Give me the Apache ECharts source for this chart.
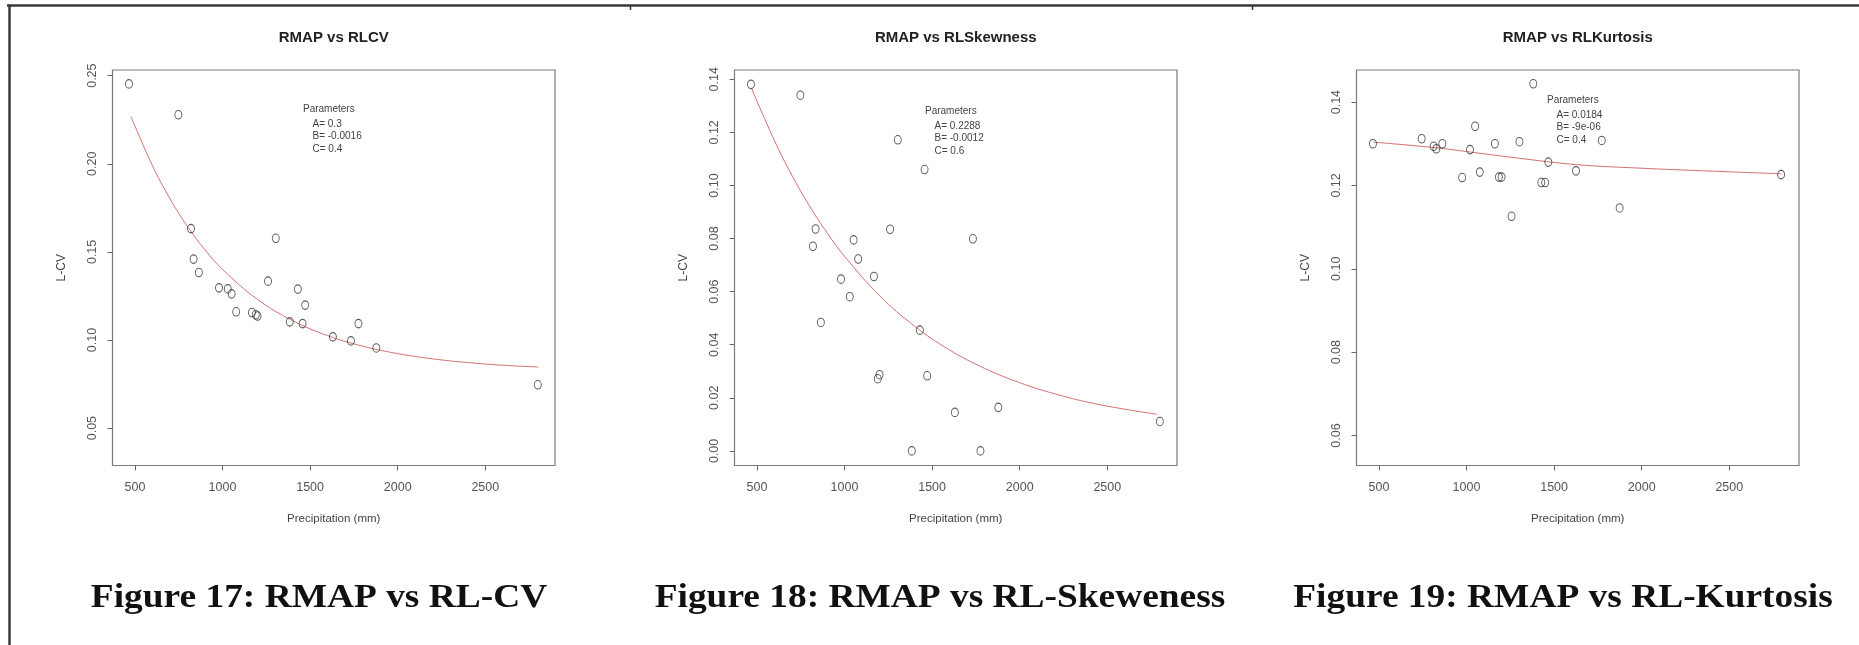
<!DOCTYPE html>
<html>
<head>
<meta charset="utf-8">
<title>RMAP vs regional L-moment ratios</title>
<style>
  html, body { margin: 0; padding: 0; background: #ffffff; }
  #chart { width: 1859px; height: 645px; }
</style>
<script src="https://cdn.jsdelivr.net/npm/echarts@6/dist/echarts.min.js"></script>
</head>
<body>
<div id="chart"></div>
<script>
// Mean annual precipitation of the stations (mm)
const stationPrecip = [466, 748, 820, 835, 865, 980, 1030, 1052, 1078, 1168, 1190, 1200,
                       1260, 1304, 1384, 1430, 1457, 1472, 1630, 1733, 1776, 1878, 2800];

// Regional L-CV at each station
const cvValues = [0.2453, 0.2278, 0.1632, 0.1459, 0.1383, 0.1296, 0.1290, 0.1262, 0.1160, 0.1156, 0.1143, 0.1136,
                  0.1334, 0.1577, 0.1103, 0.1289, 0.1093, 0.1198, 0.1018, 0.0995, 0.1093, 0.0955, 0.0746];

// Regional L-skewness at each station
const skewValues = [0.1381, 0.1340, 0.0771, 0.0836, 0.0484, 0.0647, 0.0581, 0.0795, 0.0723, 0.0657, 0.0272, 0.0287,
                    0.0835, 0.1172, 0.0000, 0.0455, 0.1060, 0.0283, 0.0145, 0.0799, 0.0000, 0.0164, 0.0111];

// Regional L-kurtosis plot has its own station list
const kurtPrecip = [466, 744, 812, 828, 862, 975, 1020, 1049, 1076, 1162, 1185, 1200,
                    1257, 1302, 1381, 1427, 1449, 1467, 1625, 1772, 1874, 2796];
const kurtValues = [0.1300, 0.1312, 0.1294, 0.1288, 0.1300, 0.1219, 0.1286, 0.1342, 0.1232, 0.1300, 0.1220, 0.1220,
                    0.1126, 0.1305, 0.1444, 0.1207, 0.1207, 0.1256, 0.1235, 0.1308, 0.1146, 0.1226];

// Fitted curves
const cvFitX = [477, 600, 700, 800, 900, 1000, 1200, 1400, 1600, 1800, 2000, 2200, 2400, 2600, 2803];
const cvFitY = [0.2269, 0.1989, 0.1802, 0.1644, 0.1512, 0.1401, 0.1230, 0.1110, 0.1025, 0.0965, 0.0923, 0.0893, 0.0872, 0.0857, 0.0847];
const skewFitX = [470, 600, 700, 800, 900, 1000, 1200, 1400, 1600, 1800, 2000, 2200, 2400, 2600, 2785];
const skewFitY = [0.1365, 0.1169, 0.1038, 0.0923, 0.0822, 0.0733, 0.0585, 0.0470, 0.0380, 0.0311, 0.0257, 0.0215, 0.0182, 0.0157, 0.0138];
const kurtFitX = [466, 835, 1060, 1286, 1625, 1964, 2416, 2796];
const kurtFitY = [0.1304, 0.1290, 0.1278, 0.1266, 0.1250, 0.1242, 0.1234, 0.1228];

// Tick labels
const precipTicks = [500, 1000, 1500, 2000, 2500];
const cvTicks = [0.05, 0.10, 0.15, 0.20, 0.25];
const skewTicks = [0.00, 0.02, 0.04, 0.06, 0.08, 0.10, 0.12, 0.14];
const kurtTicks = [0.06, 0.08, 0.10, 0.12, 0.14];

// Text
const plotTitles = ['RMAP vs RLCV', 'RMAP vs RLSkewness', 'RMAP vs RLKurtosis'];
const figureCaptions = ['Figure 17: RMAP vs RL-CV', 'Figure 18: RMAP vs RL-Skeweness', 'Figure 19: RMAP vs RL-Kurtosis'];
const cvParams = ['A= 0.3', 'B= -0.0016', 'C= 0.4'];
const skewParams = ['A= 0.2288', 'B= -0.0012', 'C= 0.6'];
const kurtParams = ['A= 0.0184', 'B= -9e-06', 'C= 0.4'];
const xAxisTitle = 'Precipitation (mm)';
const yAxisTitle = 'L-CV';

const zip = (xs, ys) => xs.map((x, i) => [x, ys[i]]);

// Layout of the three panels
const panels = [
  { px: stationPrecip, py: cvValues, fx: cvFitX, fy: cvFitY, ticks: cvTicks, params: cvParams,
    left: 112.5, yMin: 0.0288, yMax: 0.2532, paramTop: 109, capX: 319 },
  { px: stationPrecip, py: skewValues, fx: skewFitX, fy: skewFitY, ticks: skewTicks, params: skewParams,
    left: 734.5, yMin: -0.0055, yMax: 0.1435, paramTop: 111, capX: 940 },
  { px: kurtPrecip, py: kurtValues, fx: kurtFitX, fy: kurtFitY, ticks: kurtTicks, params: kurtParams,
    left: 1356.5, yMin: 0.0528, yMax: 0.1477, paramTop: 100, capX: 1563 }
];
const GRID_TOP = 70, GRID_W = 442.5, GRID_H = 395.5;
const SANS = '"Liberation Sans", Arial, sans-serif';
const SERIF = '"Liberation Serif", "Times New Roman", serif';

const grids = [], xAxes = [], yAxes = [], series = [], graphics = [];

panels.forEach((p, i) => {
  grids.push({
    left: p.left, top: GRID_TOP, width: GRID_W, height: GRID_H,
    show: true, borderColor: '#7a7a7a', borderWidth: 1.2, backgroundColor: 'transparent'
  });
  xAxes.push({
    type: 'value', gridIndex: i, min: 372, max: 2898,
    axisLine: { show: false, onZero: false },
    splitLine: { show: false },
    axisTick: { show: true, customValues: precipTicks, length: 5, lineStyle: { color: '#666', width: 1 } },
    axisLabel: { customValues: precipTicks, margin: 15, fontSize: 12.5, lineHeight: 14,
                 color: '#555', fontFamily: SANS, formatter: v => String(Math.round(v)) },
    name: xAxisTitle, nameLocation: 'middle', nameGap: 46,
    nameTextStyle: { fontSize: 11.5, color: '#444', fontFamily: SANS, lineHeight: 14 }
  });
  yAxes.push({
    type: 'value', gridIndex: i, min: p.yMin, max: p.yMax,
    axisLine: { show: false, onZero: false },
    splitLine: { show: false },
    axisTick: { show: true, customValues: p.ticks, length: 5, lineStyle: { color: '#666', width: 1 } },
    axisLabel: { customValues: p.ticks, rotate: 90, margin: 13, fontSize: 12.5, lineHeight: 14,
                 color: '#555', fontFamily: SANS, formatter: v => Number(v).toFixed(2) },
    name: yAxisTitle, nameLocation: 'middle', nameGap: 44, nameRotate: 90,
    nameTextStyle: { fontSize: 12, color: '#444', fontFamily: SANS, lineHeight: 14 }
  });
  series.push({
    type: 'line', xAxisIndex: i, yAxisIndex: i, data: zip(p.fx, p.fy),
    showSymbol: false, smooth: 0.4, silent: true, z: 2,
    lineStyle: { color: '#d4716f', width: 1 }
  });
  series.push({
    type: 'scatter', xAxisIndex: i, yAxisIndex: i, data: zip(p.px, p.py),
    symbol: 'circle', symbolSize: [7, 8.5], silent: true, z: 3,
    itemStyle: { color: 'rgba(255,255,255,0)', borderColor: '#333', borderWidth: 1 }
  });

  const cx = p.left + GRID_W / 2;
  // plot title
  graphics.push({
    type: 'text', x: cx, y: 38,
    style: { text: plotTitles[i], font: 'bold 15px ' + SANS, fill: '#222',
             textAlign: 'center', textVerticalAlign: 'middle', align: 'center', verticalAlign: 'middle' }
  });
  // fitted parameters
  graphics.push({
    type: 'text', x: p.left + 190.5, y: p.paramTop,
    style: { text: 'Parameters', font: '10px ' + SANS, fill: '#444',
             textAlign: 'left', textVerticalAlign: 'middle', align: 'left', verticalAlign: 'middle' }
  });
  p.params.forEach((t, k) => {
    graphics.push({
      type: 'text', x: p.left + 200, y: p.paramTop + 15 + k * 12.5,
      style: { text: t, font: '10px ' + SANS, fill: '#444',
               textAlign: 'left', textVerticalAlign: 'middle', align: 'left', verticalAlign: 'middle' }
    });
  });
  // figure caption
  graphics.push({
    type: 'text', x: p.capX, y: 598, scaleX: 1.1,
    style: { text: figureCaptions[i], font: 'bold 34px ' + SERIF, fill: '#111',
             textAlign: 'center', textVerticalAlign: 'middle', align: 'center', verticalAlign: 'middle' }
  });
});

// page frame
graphics.push({ type: 'line', shape: { x1: 7, y1: 5.5, x2: 1859, y2: 5.5 }, style: { stroke: '#3a3a3a', lineWidth: 2.5 } });
graphics.push({ type: 'line', shape: { x1: 9.5, y1: 4.5, x2: 9.5, y2: 645 }, style: { stroke: '#3a3a3a', lineWidth: 2.5 } });
[630.5, 1252.5].forEach(x => {
  graphics.push({ type: 'line', shape: { x1: x, y1: 5, x2: x, y2: 10 }, style: { stroke: '#3a3a3a', lineWidth: 1.5 } });
});

const chart = echarts.init(document.getElementById('chart'), null, { renderer: 'canvas' });
chart.setOption({
  animation: false,
  backgroundColor: '#ffffff',
  grid: grids,
  xAxis: xAxes,
  yAxis: yAxes,
  series: series,
  graphic: { elements: graphics }
});
</script>
</body>
</html>
